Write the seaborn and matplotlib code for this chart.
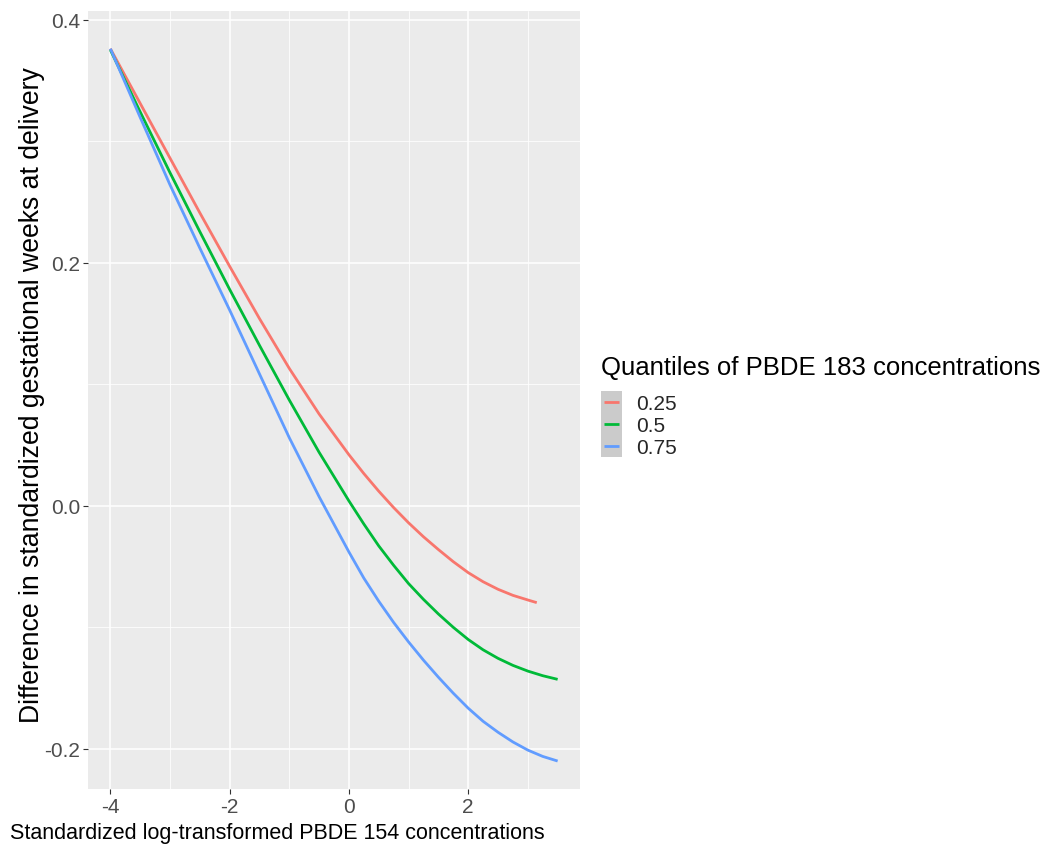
import matplotlib
matplotlib.use("Agg")
import matplotlib.pyplot as plt
import numpy as np
import pandas as pd
import seaborn as sns
from matplotlib.patches import Rectangle

# Values (finer steps where the curves bend)
left_x = [-4.0, -3.5, -3.0, -2.5, -2.0, -1.5, -1.0, -0.5, 0.0]
right_x = [0.25, 0.5, 0.75, 1.0, 1.25, 1.5, 1.75, 2.0, 2.25, 2.5, 2.75, 3.0]

q25_x = left_x + right_x + [3.15]
q25_y = [0.376, 0.331, 0.286, 0.241, 0.197, 0.154, 0.113, 0.0755, 0.042,
         0.0265, 0.012, -0.0015, -0.014, -0.0255, -0.036, -0.046, -0.055,
         -0.0625, -0.0687, -0.0737, -0.0775, -0.0797]

q50_x = left_x + right_x + [3.25, 3.5]
q50_y = [0.375, 0.324, 0.274, 0.2255, 0.178, 0.132, 0.087, 0.044, 0.004,
         -0.015, -0.033, -0.049, -0.064, -0.077, -0.089, -0.100, -0.110,
         -0.1185, -0.1255, -0.1313, -0.136, -0.1398, -0.1428]

q75_x = left_x + right_x + [3.25, 3.5]
q75_y = [0.376, 0.3195, 0.264, 0.212, 0.161, 0.1085, 0.056, 0.0075, -0.038,
         -0.0595, -0.0785, -0.096, -0.112, -0.127, -0.141, -0.1542, -0.1665,
         -0.1773, -0.1863, -0.1943, -0.201, -0.2062, -0.210]

quantile_labels = ["0.25", "0.5", "0.75"]
quantile_colors = ["#F8766D", "#00BA38", "#619CFF"]

x_major = [-4, -2, 0, 2]
x_minor = [-3, -1, 1, 3]
y_major = [-0.2, 0.0, 0.2, 0.4]
y_major_labels = ["-0.2", "0.0", "0.2", "0.4"]
y_minor = [-0.1, 0.1, 0.3]

df = pd.concat([
    pd.DataFrame({"x": q25_x, "y": q25_y, "quantile": quantile_labels[0]}),
    pd.DataFrame({"x": q50_x, "y": q50_y, "quantile": quantile_labels[1]}),
    pd.DataFrame({"x": q75_x, "y": q75_y, "quantile": quantile_labels[2]}),
], ignore_index=True)

sns.set_theme(style="white")
plt.rcParams["font.family"] = ["Liberation Sans", "DejaVu Sans"]

fig = plt.figure(figsize=(10.5, 8.62), dpi=100)
ax = fig.add_axes([88 / 1050, 1 - 790 / 862, 492 / 1050, 778 / 862])
ax.set_facecolor("#EBEBEB")

sns.lineplot(data=df, x="x", y="y", hue="quantile",
             palette=dict(zip(quantile_labels, quantile_colors)),
             hue_order=quantile_labels, estimator=None, sort=False,
             linewidth=2.0, ax=ax, zorder=3)
for ln in ax.get_lines():
    ln.set_solid_joinstyle("round")
    ln.set_solid_capstyle("butt")

ax.set_xlim(-4.375, 3.875)
ax.set_ylim(-0.233, 0.407)
ax.set_xticks(x_major)
ax.set_xticklabels([str(v) for v in x_major])
ax.set_xticks(x_minor, minor=True)
ax.set_yticks(y_major)
ax.set_yticklabels(y_major_labels)
ax.set_yticks(y_minor, minor=True)

ax.grid(which="major", color="white", linewidth=1.1, zorder=0)
ax.grid(which="minor", color="white", linewidth=0.55, zorder=0)
ax.set_axisbelow(True)
for s in ax.spines.values():
    s.set_visible(False)

ax.tick_params(which="major", length=3.5, width=0.8, color="#333333",
               labelcolor="#4D4D4D", labelsize=15, pad=2)
ax.tick_params(which="minor", length=0)
ax.tick_params(axis="x", bottom=True)
ax.tick_params(axis="y", left=True)

ax.set_xlabel("Standardized log-transformed PBDE 154 concentrations",
              fontsize=15.5, color="black")
ax.set_ylabel("Difference in standardized gestational weeks at delivery",
              fontsize=19.2, color="black")
ax.xaxis.set_label_coords(0.384, -0.043)
ax.yaxis.set_label_coords(-0.088, 0.507)

handles, labels = ax.get_legend_handles_labels()
ax.get_legend().remove()
fig.text(601 / 1050, 1 - 368 / 862, "Quantiles of PBDE 183 concentrations",
         fontsize=18.5, color="black", ha="left", va="center")
leg = fig.legend(handles, labels, loc="upper left",
                 bbox_to_anchor=(604 / 1050, 1 - 395 / 862),
                 frameon=False, borderpad=0, borderaxespad=0,
                 fontsize=15, handlelength=0.72, handletextpad=0.82,
                 labelspacing=0.145)

# gray key background behind the legend lines (ggplot ribbon key)
fig.canvas.draw()
exts = [h.get_window_extent() for h in leg.legend_handles]
centers = [(e.y0 + e.y1) / 2 for e in exts]
step = abs(centers[0] - centers[1])
x0 = min(e.x0 for e in exts) - 3
x1 = max(e.x1 for e in exts) + 3
y0 = min(centers) - step / 2
y1 = max(centers) + step / 2
fig.patches.append(Rectangle((x0, y0), x1 - x0, y1 - y0, transform=None,
                             facecolor="#CBCBCB", edgecolor="none", zorder=0))

fig.savefig("out.png", dpi=100)
